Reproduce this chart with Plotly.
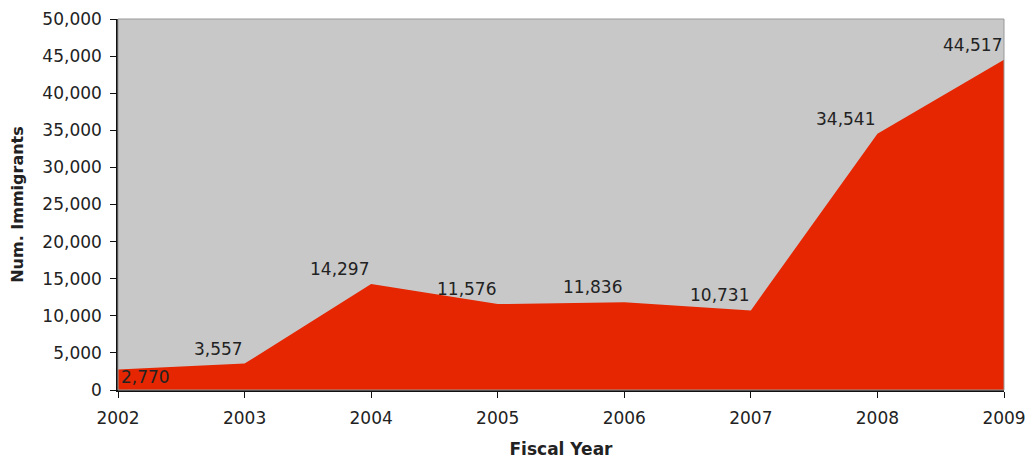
import plotly.graph_objects as go

years = [2002, 2003, 2004, 2005, 2006, 2007, 2008, 2009]
immigrants = [2770, 3557, 14297, 11576, 11836, 10731, 34541, 44517]
labels = ["2,770", "3,557", "14,297", "11,576", "11,836", "10,731", "34,541", "44,517"]

FONT = "DejaVu Sans, Verdana, sans-serif"
RED = "#e52600"

fig = go.Figure()
fig.add_trace(go.Scatter(
    x=years, y=immigrants, mode="lines",
    fill="tozeroy", fillcolor=RED,
    line=dict(color=RED, width=0),
    hoverinfo="x+y", showlegend=False,
))

annotations = []
for i, (yr, val, lab) in enumerate(zip(years, immigrants, labels)):
    if i == 0:
        annotations.append(dict(x=yr, y=val, text=lab, showarrow=False,
                                xanchor="left", yanchor="top", xshift=1, yshift=4,
                                font=dict(family=FONT, size=17, color="#222222")))
    else:
        annotations.append(dict(x=yr, y=val, text=lab, showarrow=False,
                                xanchor="right", yanchor="bottom", xshift=0, yshift=3,
                                font=dict(family=FONT, size=17, color="#222222")))

fig.update_layout(
    width=1029, height=464,
    margin=dict(l=118, r=25, t=19, b=74),
    paper_bgcolor="white", plot_bgcolor="#c8c8c8",
    font=dict(family=FONT, size=17, color="#222222"),
    xaxis=dict(
        range=[2002, 2009], tickmode="array", tickvals=years, automargin=False,
        ticklabeloverflow="allow",
        showgrid=False, zeroline=False, showline=True, linecolor="#111111", linewidth=1.5,
        ticks="outside", ticklen=6, tickcolor="#111111", ticklabelstandoff=6,
        title=dict(text="<b>Fiscal Year</b>", font=dict(size=17), standoff=16),
    ),
    yaxis=dict(
        range=[0, 50000], dtick=5000, tickformat=",", automargin=False,
        ticklabeloverflow="allow",
        showgrid=False, zeroline=False, showline=True, linecolor="#111111", linewidth=1.5,
        ticks="outside", ticklen=6, tickcolor="#111111", ticklabelstandoff=5,
        title=dict(text="<b>Num. Immigrants</b>", font=dict(size=16), standoff=15),
    ),
    annotations=annotations,
    shapes=[dict(type="rect", xref="paper", yref="paper", x0=0, x1=1, y0=0, y1=1,
                 line=dict(color="#999999", width=1), layer="above")],
)

fig.write_html("out.html", config={"displayModeBar": False},
               post_script="document.body.style.margin='0';")
